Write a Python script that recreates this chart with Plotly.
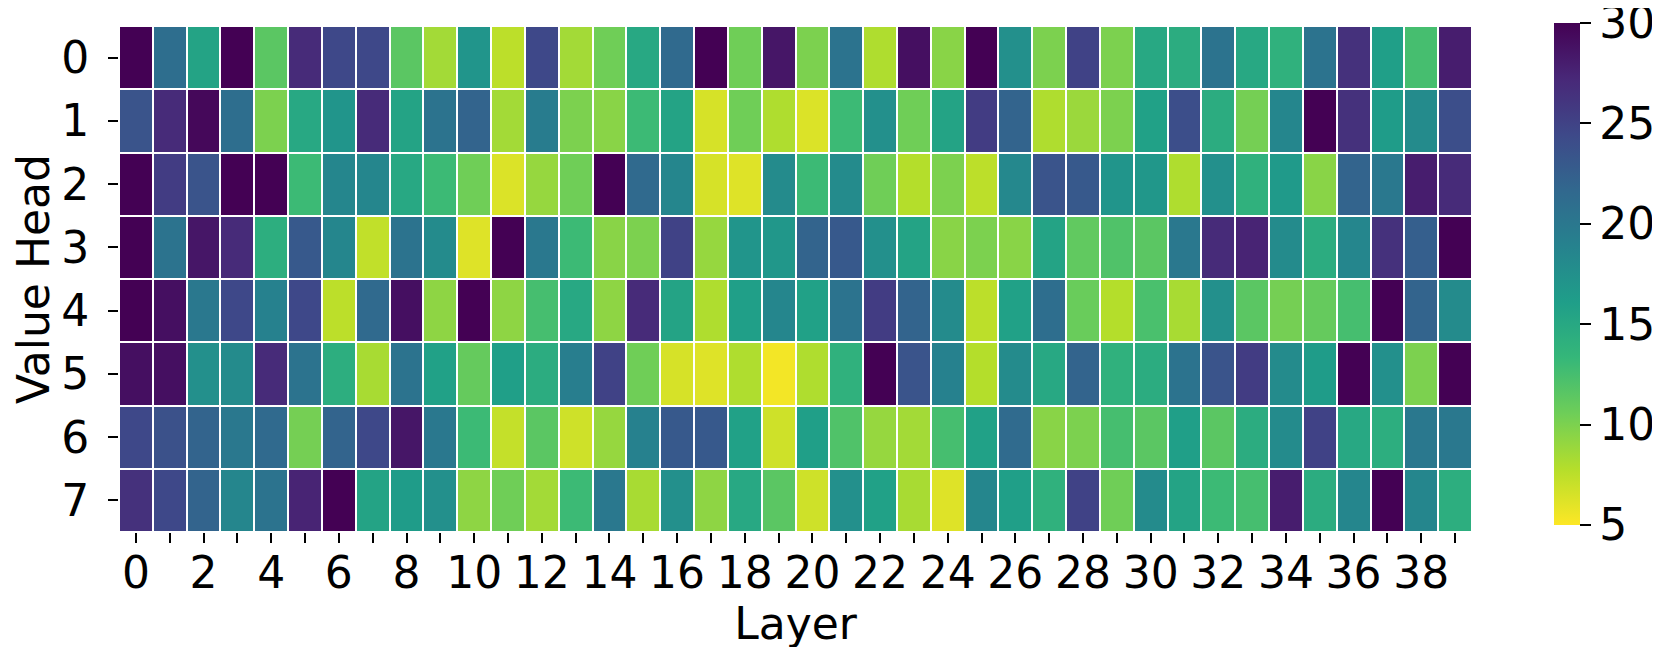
import plotly.graph_objects as go

layers = list(range(40))
heads = list(range(8))

head_0 = [30, 21, 15.5, 30, 11.5, 27, 24.5, 24.5, 11.5, 8.5, 17, 7.5, 24.5, 8.5, 10.5, 15, 21.5, 30, 10.5, 28.5,
          10, 20.5, 8, 29, 9.5, 30, 17.5, 10, 25, 10, 15, 14.5, 20.5, 15, 14, 20.5, 26.5, 16, 12.5, 28]
head_1 = [23.5, 27, 29.5, 21, 10, 15, 17, 27, 15.5, 20.5, 22, 8.5, 19.5, 10, 9.5, 13, 15.5, 6.5, 10.5, 8,
          6.3, 13, 17.5, 10.5, 15.5, 25.5, 22, 8, 8.8, 10, 15.8, 24, 14.5, 10.3, 18.5, 30, 26.5, 16.3, 18, 24]
head_2 = [30, 25.5, 23.5, 30, 30, 13, 18.5, 18.5, 15, 13, 10.5, 6.3, 9, 10.5, 30, 21.5, 18.5, 6.5, 6.2, 18,
          13, 18, 10.5, 7.8, 10, 7.5, 18.3, 23.5, 23, 17, 16.8, 8, 17.5, 14, 16.5, 9.5, 22, 20, 28, 27]
head_3 = [30, 20.5, 28.5, 27, 14.3, 23, 18.5, 7.3, 20.5, 18, 6.2, 30, 20, 13, 9.5, 10, 25, 9, 17, 16.8,
          22, 23, 17.5, 15.5, 9.5, 10, 9.5, 15.5, 11.2, 12, 11.5, 20, 27, 27.5, 18, 14.5, 18.5, 26.5, 22.5, 30]
head_4 = [30, 29, 20, 24.5, 19, 24.5, 7.5, 21.5, 29, 9.3, 30, 9.3, 12.5, 15, 9.3, 27, 15.5, 8, 16, 18.5,
          15.8, 20.5, 25.5, 22, 18, 7.5, 15.8, 21, 10.8, 7.8, 12.3, 8.3, 17.5, 11.5, 10.3, 11, 12.5, 30, 22, 18]
head_5 = [29, 29, 17.5, 18, 27, 20.5, 14.3, 8.3, 20.5, 15.8, 11, 16, 14.5, 19.3, 25, 10.5, 6.5, 6.2, 8, 5.4,
          8, 14, 30, 23.5, 19, 7.8, 18, 15, 22, 14, 14.5, 20.5, 23.5, 25.5, 18, 16.3, 30, 17.5, 10, 30]
head_6 = [24.5, 23.7, 22, 20, 21.5, 10.3, 22, 24.5, 28.5, 20, 13, 7.2, 11.5, 6.8, 9, 19, 23, 23, 15.8, 6.8,
          16, 12, 9, 8.5, 12.5, 15.8, 21.3, 9.5, 10, 12.5, 11.5, 16, 11.5, 14.5, 18, 25, 15, 14.3, 20, 20]
head_7 = [26.5, 24.5, 22, 18.5, 20.5, 27.5, 30, 15.5, 16.3, 17.5, 9.3, 10.5, 8.5, 13, 20, 8.3, 17.5, 9.3, 15, 11.5,
          6.8, 17.5, 15.8, 8.3, 6.2, 18.5, 16, 14, 25, 10.5, 18, 15.5, 13, 12.5, 28, 14.5, 18.5, 30, 18.5, 14.3]

x_tick_labels = [str(i) if i % 2 == 0 else "" for i in layers]
cbar_ticks = [5, 10, 15, 20, 25, 30]

z = [head_0, head_1, head_2, head_3, head_4, head_5, head_6, head_7]

FONT = "DejaVu Sans"
FS = 44

fig = go.Figure(go.Heatmap(
    z=z, x=layers, y=heads,
    colorscale="Viridis", reversescale=True, zmin=4.999, zmax=30.001,
    xgap=2, ygap=2,
    colorbar=dict(
        x=(1554 - 108) / 1363, xanchor="left", xpad=0, ypad=0,
        y=0.51, yanchor="middle", lenmode="pixels", len=502,
        thickness=26, outlinewidth=0,
        tickmode="array", tickvals=cbar_ticks, ticktext=[str(t) for t in cbar_ticks],
        ticks="outside", ticklen=11, tickwidth=2, tickcolor="black",
        ticklabeloverflow="allow",
        tickfont=dict(family=FONT, size=FS, color="black"),
    ),
))

fig.update_layout(
    width=1660, height=647,
    margin=dict(l=108, r=189, t=18, b=123),
    paper_bgcolor="white", plot_bgcolor="white",
    font=dict(family=FONT, size=FS, color="black"),
    xaxis=dict(
        tickmode="array", tickvals=layers, ticktext=x_tick_labels,
        ticks="outside", ticklen=10, tickwidth=2, tickcolor="black",
        showgrid=False, zeroline=False, showline=False,
        range=[-0.5, 39.5], ticklabelstandoff=-8,
        tickfont=dict(family=FONT, size=FS, color="black"), tickangle=0,
        title=dict(text="Layer", font=dict(family=FONT, size=FS, color="black"), standoff=1),
    ),
    yaxis=dict(
        tickmode="array", tickvals=heads, ticktext=[str(h) for h in heads],
        ticks="outside", ticklen=10, tickwidth=2, tickcolor="black",
        showgrid=False, zeroline=False, showline=False,
        range=[7.5, -0.5], ticklabelstandoff=10,
        tickfont=dict(family=FONT, size=FS, color="black"),
        title=dict(text="Value Head", font=dict(family=FONT, size=FS, color="black"), standoff=10),
    ),
)

fig.write_html("out.html")
